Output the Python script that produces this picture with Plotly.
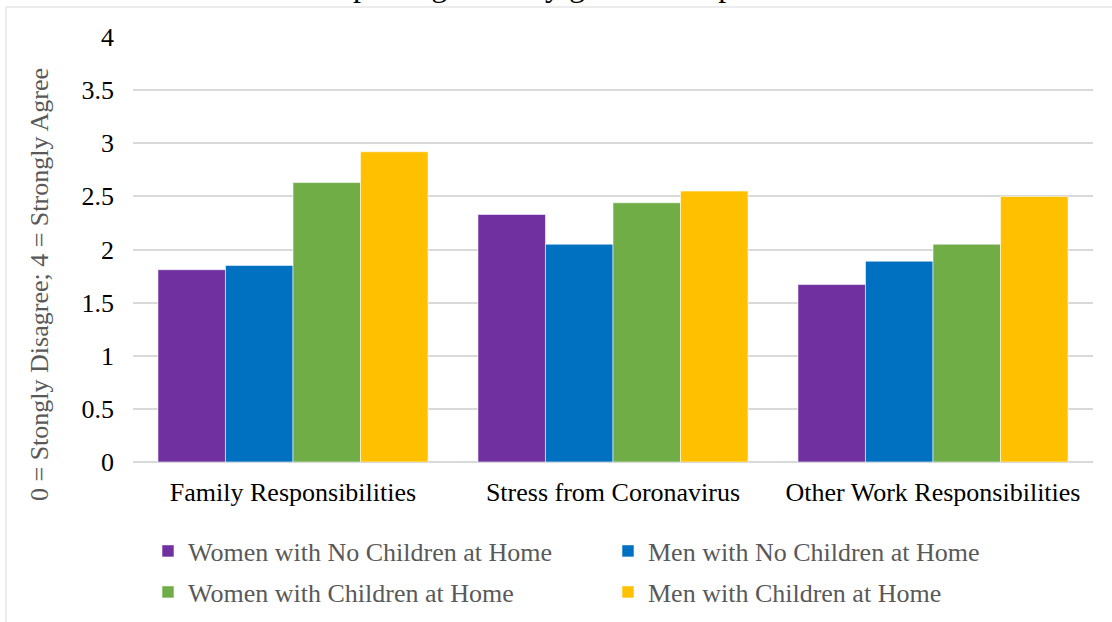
import plotly.graph_objects as go

# Survey factors and mean agreement scores (0-4 scale)
categories = ["Family Responsibilities", "Stress from Coronavirus", "Other Work Responsibilities"]
women_no_children = [1.81, 2.33, 1.67]
men_no_children = [1.85, 2.05, 1.89]
women_children = [2.63, 2.44, 2.05]
men_children = [2.92, 2.55, 2.50]

series_names = [
    "Women with No Children at Home",
    "Men with No Children at Home",
    "Women with Children at Home",
    "Men with Children at Home",
]
series_values = [women_no_children, men_no_children, women_children, men_children]
series_colors = ["#7030A0", "#0070C0", "#70AD47", "#FFC000"]
series_legends = ["legend", "legend", "legend2", "legend2"]

y_ticks = [0, 0.5, 1, 1.5, 2, 2.5, 3, 3.5, 4]
y_tick_text = ["0", "0.5", "1", "1.5", "2", "2.5", "3", "3.5", "4"]

FONT = "Liberation Serif, Times New Roman, serif"
W, H = 1112, 622
L, R, T, B = 133, 19, 37, 160

fig = go.Figure()
for name, vals, color, lg in zip(series_names, series_values, series_colors, series_legends):
    fig.add_trace(go.Bar(
        x=categories, y=vals, name=name, legend=lg,
        marker=dict(color=color, line=dict(color="rgba(255,255,255,0.7)", width=0.8)),
    ))

def cx(px):
    return px / W

def cy(px):
    return 1 - px / H

legend_common = dict(
    orientation="h", xref="container", yref="container",
    xanchor="left", yanchor="middle",
    font=dict(family=FONT, size=26, color="#595959"),
    entrywidthmode="pixels", entrywidth=415,
    itemwidth=30, bgcolor="rgba(0,0,0,0)",
)

fig.update_layout(
    width=W, height=H,
    margin=dict(l=L, r=R, t=T, b=B),
    paper_bgcolor="white", plot_bgcolor="white",
    barmode="group", bargap=0.156, bargroupgap=0,
    font=dict(family=FONT, size=26, color="#000000"),
    showlegend=True,
    legend=dict(x=cx(148), y=cy(551), **legend_common),
    legend2=dict(x=cx(148), y=cy(592), **legend_common),
    xaxis=dict(
        showgrid=False, showline=False, ticks="",
        tickfont=dict(family=FONT, size=26, color="#000000"),
        ticklabelstandoff=12,
    ),
    yaxis=dict(
        range=[0, 4], tickvals=y_ticks, ticktext=y_tick_text,
        showgrid=True, gridcolor="#d9d9d9", gridwidth=1.5,
        zeroline=True, zerolinecolor="#d9d9d9", zerolinewidth=1.5,
        showline=False, ticks="",
        tickfont=dict(family=FONT, size=26, color="#000000"),
        ticklabelstandoff=18,
    ),
)

plot_w = W - L - R
plot_h = H - T - B

def px_x(px):
    return (px - L) / plot_w

def px_y(py):
    return (H - B - py) / plot_h

# Chart frame
fig.add_shape(
    type="rect", xref="paper", yref="paper",
    x0=px_x(6), x1=1.3, y0=-0.6, y1=px_y(7),
    line=dict(color="#d9d9d9", width=1), fillcolor="rgba(0,0,0,0)", layer="below",
)

# Chart title
fig.add_annotation(
    text="Factors impacting work by gender and parental status",
    xref="paper", yref="paper", x=px_x(559), y=px_y(-15),
    xanchor="center", yanchor="middle", showarrow=False,
    font=dict(family=FONT, size=32, color="#000000"),
)

# Y-axis title
fig.add_annotation(
    text="0 = Stongly Disagree; 4 = Strongly Agree",
    xref="paper", yref="paper", x=px_x(39), y=px_y(285),
    xanchor="center", yanchor="middle", textangle=-90, showarrow=False,
    font=dict(family=FONT, size=26, color="#595959"),
)

fig.write_html("out.html")
